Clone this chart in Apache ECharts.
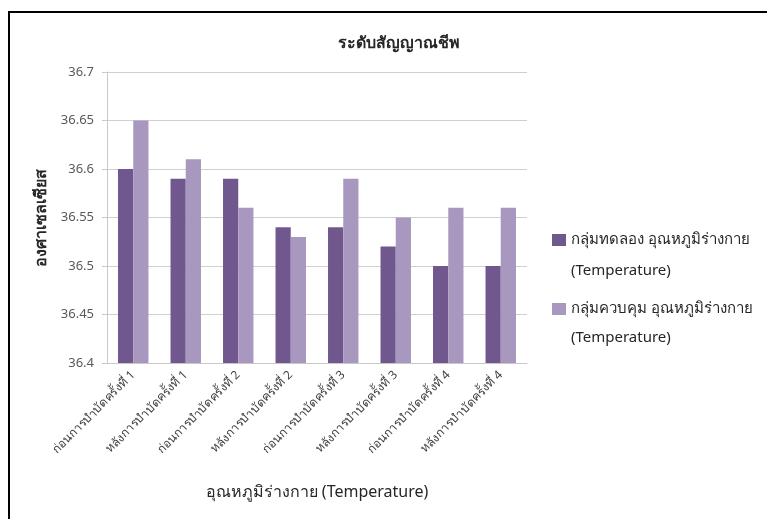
<!DOCTYPE html>
<html><head><meta charset="utf-8">
<script src="https://cdn.jsdelivr.net/npm/echarts@6/dist/echarts.min.js"></script>
<style>html,body{margin:0;padding:0;background:#fff}#c{width:767px;height:519px}</style>
</head><body><div id="c"></div>
<script>
var categories = ['ก่อนการบำบัดครั้งที่ 1','หลังการบำบัดครั้งที่ 1','ก่อนการบำบัดครั้งที่ 2','หลังการบำบัดครั้งที่ 2','ก่อนการบำบัดครั้งที่ 3','หลังการบำบัดครั้งที่ 3','ก่อนการบำบัดครั้งที่ 4','หลังการบำบัดครั้งที่ 4'];
var experimentValues = [36.6, 36.59, 36.59, 36.54, 36.54, 36.52, 36.5, 36.5];
var controlValues = [36.65, 36.61, 36.56, 36.53, 36.59, 36.55, 36.56, 36.56];
var seriesNames = ['กลุ่มทดลอง อุณหภูมิร่างกาย (Temperature)', 'กลุ่มควบคุม อุณหภูมิร่างกาย (Temperature)'];
var yMin = 36.4, yMax = 36.7, yStep = 0.05;
var titleText = 'ระดับสัญญาณชีพ';
var yName = 'องศาเซลเซียส';
var xName = 'อุณหภูมิร่างกาย (Temperature)';

var FONT = '"Noto Sans", "DejaVu Sans", sans-serif';
var chart = echarts.init(document.getElementById('c'), null, {renderer: 'canvas'});
chart.setOption({
  animation: false,
  backgroundColor: '#fff',
  textStyle: {fontFamily: FONT},
  title: {text: titleText, left: 394, top: 30, textAlign: 'center',
    textStyle: {fontSize: 16, fontWeight: 'bold', color: '#262626', fontFamily: FONT}},
  grid: {left: 107, right: 240, top: 72, bottom: 156, containLabel: false},
  legend: {
    orient: 'vertical', left: 552, top: 231, padding: 0, itemWidth: 14, itemHeight: 12, itemGap: 51,
    icon: 'rect',
    formatter: function (n) { return n.split(' (')[0]; },
    textStyle: {fontSize: 15, lineHeight: 18, color: '#262626', fontFamily: FONT},
    data: seriesNames
  },
  graphic: [
    {type: 'polyline', shape: {points: [[9, 519], [9, 12], [767, 12]]}, style: {stroke: '#000', lineWidth: 2, fill: null}, silent: true},
    {type: 'text', left: 571, top: 263, style: {text: '(Temperature)', fontSize: 15, fill: '#262626', fontFamily: FONT}},
    {type: 'text', left: 571, top: 330, style: {text: '(Temperature)', fontSize: 15, fill: '#262626', fontFamily: FONT}}
  ],
  xAxis: {
    type: 'category', data: categories,
    name: xName, nameLocation: 'middle', nameGap: 121,
    nameTextStyle: {fontSize: 16, color: '#262626', fontFamily: FONT},
    axisLine: {lineStyle: {color: '#c8c8c8'}},
    axisTick: {show: false},
    axisLabel: {rotate: 45, fontSize: 12, color: '#404040', margin: 10, interval: 0, fontFamily: FONT}
  },
  yAxis: {
    type: 'value', min: yMin, max: yMax, interval: yStep,
    name: yName, nameLocation: 'middle', nameGap: 56,
    nameTextStyle: {fontSize: 16, fontWeight: 'bold', color: '#262626', fontFamily: FONT},
    axisLine: {show: true, lineStyle: {color: '#c8c8c8'}},
    axisTick: {show: true, length: 5, lineStyle: {color: '#c8c8c8'}},
    axisLabel: {fontSize: 13, color: '#595959', margin: 13, fontFamily: FONT,
      formatter: function (v) { return String(Math.round(v * 100) / 100); }},
    splitLine: {lineStyle: {color: '#d0d0d0'}}
  },
  series: [
    {name: seriesNames[0], type: 'bar', data: experimentValues, barGap: '0%', barCategoryGap: '42%',
     itemStyle: {color: '#70588f'}},
    {name: seriesNames[1], type: 'bar', data: controlValues, barGap: '0%', barCategoryGap: '42%',
     itemStyle: {color: '#a898c0'}}
  ]
});
</script></body></html>
